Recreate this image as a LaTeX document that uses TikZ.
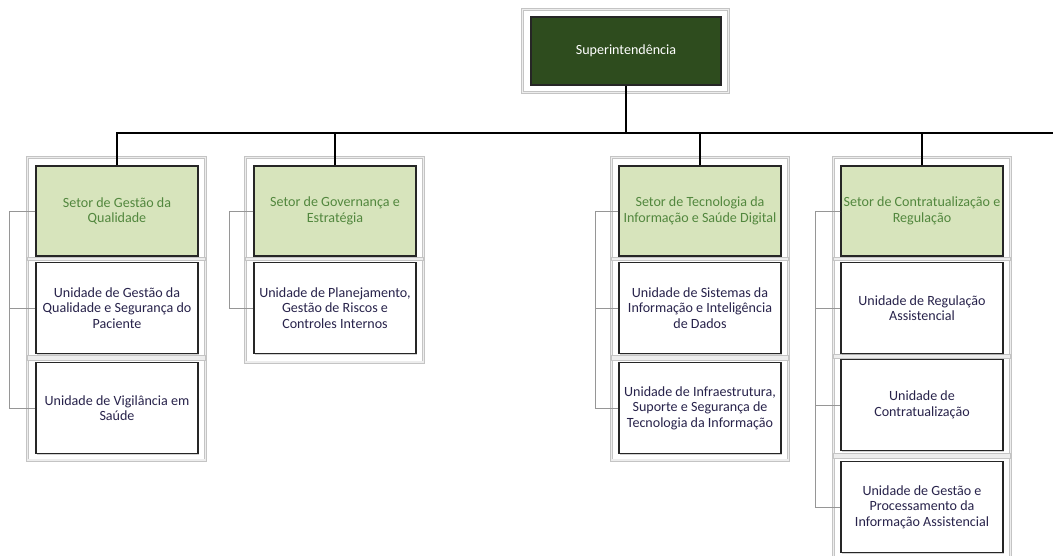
\documentclass[tikz,border=0pt]{standalone}
\usepackage{fontspec}
\setmainfont{Carlito}
\usepackage{tikz}
\usetikzlibrary{positioning,calc,shadows,backgrounds}
\definecolor{chefia}{RGB}{46,76,30}
\definecolor{setorfundo}{RGB}{215,228,188}
\definecolor{setortexto}{RGB}{82,135,62}
\definecolor{unidadetexto}{RGB}{40,35,75}
\definecolor{moldura}{RGB}{196,196,196}
\definecolor{colchete}{RGB}{150,150,150}

\begin{document}
\begin{tikzpicture}[x=0.025cm,y=-0.025cm,
	caixa/.style={draw=black!85, line width=0.8pt, inner sep=1pt, align=center,
		minimum width=4.05cm, minimum height=2.28cm,
		font=\fontsize{10}{11}\selectfont,
		drop shadow={shadow xshift=0.5pt, shadow yshift=-0.7pt, opacity=0.35}},
	setor/.style={caixa, fill=setorfundo, text=setortexto, minimum height=2.25cm},
	unidade/.style={caixa, fill=white, text=unidadetexto},
	chefe/.style={caixa, fill=chefia, text=white, minimum width=4.75cm, minimum height=1.7cm},
	moldura/.style={draw=moldura, line width=0.5pt, double=black!7, double distance=1.1pt},
	faixa/.style={draw=moldura, line width=0.5pt, fill=black!7},
	tronco/.style={draw=black, line width=1.8pt},
	colchete/.style={draw=colchete, line width=0.6pt}]
			\useasboundingbox (0,0) rectangle (1053,555);
			\clip (0,0) rectangle (1053,555);
			% topo
			\node[chefe] (sup) at (626,51) {Superintendência};
			% setores
			\node[setor] (g1) at (117,211) {Setor de Gestão da\\Qualidade};
			\node[setor] (g2) at (335,211) {Setor de Governança e\\Estratégia};
			\node[setor] (g3) at (700,211) {Setor de Tecnologia da\\Informação e Saúde Digital};
			\node[setor] (g4) at (922,211) {Setor de Contratualização e\\Regulação};
			% unidades
			\node[unidade] (u11) at (117,308) {Unidade de Gestão da\\Qualidade e Segurança do\\Paciente};
			\node[unidade] (u12) at (117,408) {Unidade de Vigilância em\\Saúde};
			\node[unidade] (u21) at (335,308) {Unidade de Planejamento,\\Gestão de Riscos e\\Controles Internos};
			\node[unidade] (u31) at (700,308) {Unidade de Sistemas da\\Informação e Inteligência\\de Dados};
			\node[unidade] (u32) at (700,408) {Unidade de Infraestrutura,\\Suporte e Segurança de\\Tecnologia da Informação};
			\node[unidade] (u41) at (922,308) {Unidade de Regulação\\Assistencial};
			\node[unidade] (u42) at (922,405) {Unidade de\\Contratualização};
			\node[unidade] (u43) at (922,507) {Unidade de Gestão e\\Processamento da\\Informação Assistencial};
			% molduras atras das caixas
			\begin{scope}[on background layer]
				\fill[white] (0,0) rectangle (1053,555);
				\draw[moldura] ($(sup.north west)+(-8,-7)$) rectangle ($(sup.south east)+(7,7)$);
				\draw[moldura] ($(g1.north west)+(-8,-8)$) rectangle ($(u12.south east)+(7,6)$);
				\draw[moldura] ($(g2.north west)+(-8,-8)$) rectangle ($(u21.south east)+(7,8)$);
				\draw[moldura] ($(g3.north west)+(-7,-8)$) rectangle ($(u32.south east)+(7,6)$);
				\draw[moldura] ($(g4.north west)+(-7,-8)$) rectangle ($(u43.south east)+(7,10)$);
				\draw[faixa] ($(g1.south west)+(-8,1)$) rectangle ($(u11.north east)+(7,-1)$);
				\draw[faixa] ($(u11.south west)+(-8,1)$) rectangle ($(u12.north east)+(7,-1)$);
				\draw[faixa] ($(g2.south west)+(-8,1)$) rectangle ($(u21.north east)+(7,-1)$);
				\draw[faixa] ($(g3.south west)+(-7,1)$) rectangle ($(u31.north east)+(7,-1)$);
				\draw[faixa] ($(u31.south west)+(-7,1)$) rectangle ($(u32.north east)+(7,-1)$);
				\draw[faixa] ($(g4.south west)+(-7,1)$) rectangle ($(u41.north east)+(7,-1)$);
				\draw[faixa] ($(u41.south west)+(-7,0)$) rectangle ($(u42.north east)+(7,0)$);
				\draw[faixa] ($(u42.south west)+(-7,2)$) rectangle ($(u43.north east)+(7,-2)$);
			\end{scope}
			% ligacoes
			\coordinate (borda) at (1053,133);
			\draw[tronco] (sup.south) -- (sup.south |- borda);
			\draw[tronco] (g1.north) |- (borda);
			\draw[tronco] (g2.north) -- (g2.north |- borda);
			\draw[tronco] (g3.north) -- (g3.north |- borda);
			\draw[tronco] (g4.north) -- (g4.north |- borda);
			\draw[colchete] (g1.west) -- ++(-26,0) |- (u11.west);
			\draw[colchete] (g1.west) -- ++(-26,0) |- (u12.west);
			\draw[colchete] (g2.west) -- ++(-24,0) |- (u21.west);
			\draw[colchete] (g3.west) -- ++(-23,0) |- (u31.west);
			\draw[colchete] (g3.west) -- ++(-23,0) |- (u32.west);
			\draw[colchete] (g4.west) -- ++(-25,0) |- (u41.west);
			\draw[colchete] (g4.west) -- ++(-25,0) |- (u42.west);
			\draw[colchete] (g4.west) -- ++(-25,0) |- (u43.west);
		\end{tikzpicture}
\end{document}
